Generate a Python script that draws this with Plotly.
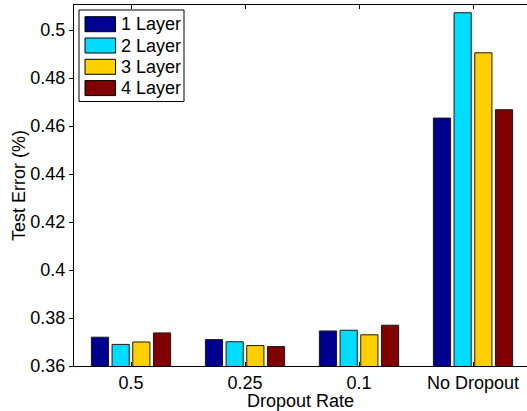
import plotly.graph_objects as go

# Test error per dropout setting for networks of 1-4 layers
categories = ["0.5", "0.25", "0.1", "No Dropout"]
series_names = ["1 Layer", "2 Layer", "3 Layer", "4 Layer"]
err_1_layer = [0.3720, 0.3710, 0.3746, 0.4633]
err_2_layer = [0.3690, 0.3701, 0.3749, 0.5072]
err_3_layer = [0.3700, 0.3685, 0.3730, 0.4905]
err_4_layer = [0.3738, 0.3681, 0.3770, 0.4668]
series_colors = ["#00008F", "#00DCFF", "#FFCF00", "#800000"]

y_tick_vals = [0.36, 0.38, 0.40, 0.42, 0.44, 0.46, 0.48, 0.50]
y_tick_text = ["0.36", "0.38", "0.4", "0.42", "0.44", "0.46", "0.48", "0.5"]

W, H = 527, 411
L, T, B = 74, 5, 45
FONT = "Liberation Sans, Arial, Helvetica, sans-serif"

fig = go.Figure()
for name, vals, col in zip(series_names,
                           [err_1_layer, err_2_layer, err_3_layer, err_4_layer],
                           series_colors):
    fig.add_trace(go.Bar(
        x=categories, y=vals, name=name, showlegend=False,
        marker=dict(color=col, line=dict(color="#1a1a1a", width=1)),
    ))

# pixel -> paper helpers for the boxed legend
plot_w = W - L
plot_h = H - T - B
def px(x):
    return (x - L) / plot_w
def py(y):
    return (H - B - y) / plot_h

shapes = [dict(type="rect", xref="paper", yref="paper",
               x0=px(79), x1=px(184), y0=py(101.5), y1=py(10),
               line=dict(color="black", width=1), fillcolor="white", layer="above")]
annotations = []
row0, row_step = 24.2, 21.3
for i, (name, col) in enumerate(zip(series_names, series_colors)):
    cy = row0 + i * row_step
    shapes.append(dict(type="rect", xref="paper", yref="paper",
                       x0=px(85), x1=px(115.5), y0=py(cy + 7.5), y1=py(cy - 7.5),
                       line=dict(color="black", width=1), fillcolor=col, layer="above"))
    annotations.append(dict(xref="paper", yref="paper", x=px(118.5), y=py(cy),
                            text=name, showarrow=False, xanchor="left", yanchor="middle",
                            font=dict(family=FONT, size=18, color="black")))

fig.update_layout(
    width=W, height=H,
    margin=dict(l=L, r=0, t=T, b=B, pad=0),
    paper_bgcolor="white", plot_bgcolor="white",
    barmode="group", bargap=0.274, bargroupgap=0.17,
    font=dict(family=FONT, size=18, color="black"),
    shapes=shapes, annotations=annotations,
    xaxis=dict(
        range=[-0.5, -0.5 + plot_w / 114.0],
        showline=True, linecolor="black", linewidth=1, mirror="ticks",
        ticks="inside", ticklen=4, tickcolor="black",
        showgrid=False, zeroline=False,
        tickfont=dict(family=FONT, size=18, color="black"),
        title=dict(text="Dropout Rate", standoff=1,
                   font=dict(family=FONT, size=18, color="black")),
    ),
    yaxis=dict(
        range=[0.36, 0.36 + plot_h / 2400.0],
        tickvals=y_tick_vals, ticktext=y_tick_text,
        showline=True, linecolor="black", linewidth=1, mirror=False,
        ticks="outside", ticklen=4, tickcolor="black",
        showgrid=False, zeroline=False,
        tickfont=dict(family=FONT, size=18, color="black"),
        title=dict(text="Test Error (%)", standoff=0,
                   font=dict(family=FONT, size=18, color="black")),
    ),
)

fig.write_html("out.html")
